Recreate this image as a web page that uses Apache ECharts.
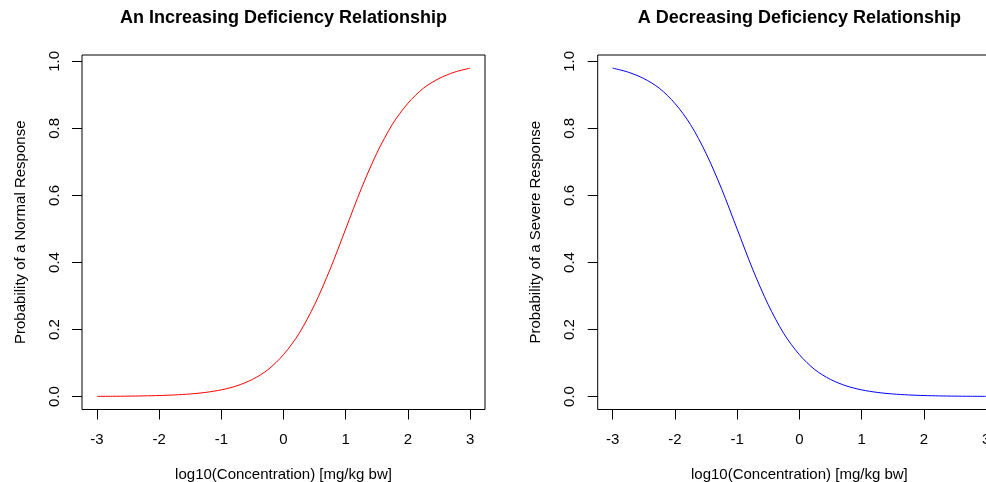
<!DOCTYPE html>
<html>
<head>
<meta charset="utf-8">
<script src="https://cdn.jsdelivr.net/npm/echarts@6/dist/echarts.min.js"></script>
<style>
  html, body { margin: 0; padding: 0; background: #fff; }
  #chart { width: 986px; height: 482px; }
</style>
</head>
<body>
<div id="chart"></div>
<script>
// log10 concentration grid shared by both panels
const concentration = [-3, -2.75, -2.5, -2.25, -2, -1.75, -1.5, -1.25, -1, -0.75, -0.5, -0.25,
  0, 0.25, 0.5, 0.75, 1, 1.25, 1.5, 1.75, 2, 2.25, 2.5, 2.75, 3];

// probability of a normal response (increasing relationship)
const normalResponse = [0.0004, 0.0007, 0.0011, 0.0018, 0.0029, 0.0047, 0.0076, 0.0123, 0.0198,
  0.0319, 0.051, 0.080, 0.125, 0.188, 0.274, 0.380, 0.500, 0.620, 0.726, 0.812, 0.875,
  0.920, 0.949, 0.968, 0.980];

// probability of a severe response (decreasing relationship)
const severeResponse = [0.980, 0.968, 0.949, 0.920, 0.875, 0.812, 0.726, 0.620, 0.500, 0.380,
  0.274, 0.188, 0.125, 0.080, 0.051, 0.0319, 0.0198, 0.0123, 0.0076, 0.0047, 0.0029,
  0.0018, 0.0011, 0.0007, 0.0004];

const xTicks = [-3, -2, -1, 0, 1, 2, 3];
const yTicks = [0, 0.2, 0.4, 0.6, 0.8, 1.0];

const titles = ['An Increasing Deficiency Relationship', 'A Decreasing Deficiency Relationship'];
const xName = 'log10(Concentration) [mg/kg bw]';
const yNames = ['Probability of a Normal Response', 'Probability of a Severe Response'];

const FONT = 'Liberation Sans, Arial, sans-serif';
const ink = '#000';

function pairs(ys) {
  return concentration.map((x, i) => [x, ys[i]]);
}

// plot regions padded 4% beyond the data range on each axis
function xRange() {
  const lo = Math.min(...concentration), hi = Math.max(...concentration);
  const pad = (hi - lo) * 0.04;
  return [lo - pad, hi + pad];
}
function yRange(ys) {
  const lo = Math.min(...ys), hi = Math.max(...ys);
  const pad = (hi - lo) * 0.04;
  return [lo - pad, hi + pad];
}

// the second panel runs past the right edge of the canvas
const grids = [
  { left: 82, width: 403, top: 55, bottom: 72.5 },
  { left: 597.7, width: 403.3, top: 55, bottom: 72.5 }
];

function xAxisFor(i) {
  const [mn, mx] = xRange();
  return {
    type: 'value', gridIndex: i, min: mn, max: mx,
    name: xName, nameLocation: 'middle', nameGap: 58,
    nameTextStyle: { color: ink, fontFamily: FONT, fontSize: 15 },
    axisLine: { show: false, onZero: false },
    splitLine: { show: false },
    axisTick: { show: true, length: 10, customValues: xTicks, lineStyle: { color: ink } },
    axisLabel: { customValues: xTicks, color: ink, fontFamily: FONT, fontSize: 15, margin: 23 }
  };
}

function yAxisFor(i, ys) {
  const [mn, mx] = yRange(ys);
  return {
    type: 'value', gridIndex: i, min: mn, max: mx,
    name: yNames[i], nameLocation: 'middle', nameGap: 54,
    nameTextStyle: { color: ink, fontFamily: FONT, fontSize: 15 },
    axisLine: { show: false, onZero: false },
    splitLine: { show: false },
    axisTick: { show: true, length: 10, customValues: yTicks, lineStyle: { color: ink } },
    axisLabel: {
      customValues: yTicks, color: ink, fontFamily: FONT, fontSize: 15, margin: 20,
      rotate: 90, formatter: v => v.toFixed(1)
    }
  };
}

const chart = echarts.init(document.getElementById('chart'), null, { renderer: 'canvas' });
chart.setOption({
  backgroundColor: '#fff',
  animation: false,
  title: [
    { text: titles[0], left: 283.5, top: 9, padding: 0, textAlign: 'center',
      textStyle: { fontFamily: FONT, fontWeight: 'bold', fontSize: 18, color: ink } },
    { text: titles[1], left: 799.4, top: 9, padding: 0, textAlign: 'center',
      textStyle: { fontFamily: FONT, fontWeight: 'bold', fontSize: 18, color: ink } }
  ],
  grid: grids.map(g => Object.assign({ show: true, borderColor: ink, borderWidth: 1,
    backgroundColor: 'transparent', containLabel: false, outerBoundsMode: 'none' }, g)),
  xAxis: [xAxisFor(0), xAxisFor(1)],
  yAxis: [yAxisFor(0, normalResponse), yAxisFor(1, severeResponse)],
  series: [
    { type: 'line', xAxisIndex: 0, yAxisIndex: 0, data: pairs(normalResponse),
      smooth: 0.3, showSymbol: false, lineStyle: { color: '#ff0000', width: 1 } },
    { type: 'line', xAxisIndex: 1, yAxisIndex: 1, data: pairs(severeResponse),
      smooth: 0.3, showSymbol: false, lineStyle: { color: '#0000ff', width: 1 } }
  ]
});
</script>
</body>
</html>
